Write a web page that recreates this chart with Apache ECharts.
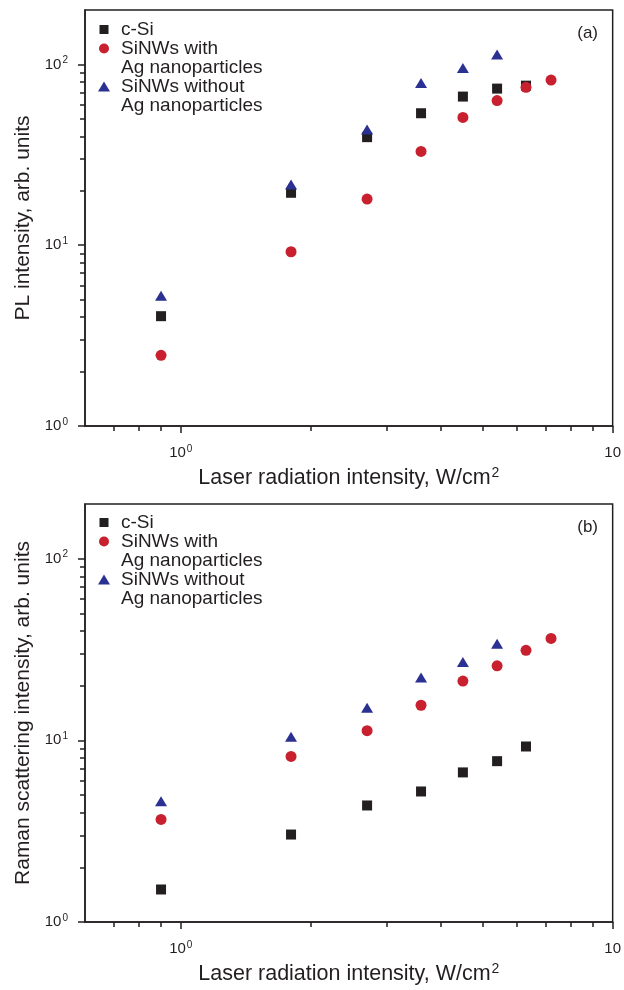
<!DOCTYPE html>
<html><head><meta charset="utf-8">
<script src="https://cdn.jsdelivr.net/npm/echarts@6/dist/echarts.min.js"></script>
<style>html,body{margin:0;padding:0;background:#fff}#c{width:624px;height:990px}</style>
</head><body><div id="c"></div>
<script>
// ---- data ----
const xValues = [0.9, 1.8, 2.7, 3.6, 4.5, 5.4, 6.3, 7.2];
const plCSi = [4.05, 19.5, 39.6, 53.7, 66.4, 73.5, 76.3];
const plWithAg = [2.46, 9.2, 18.0, 33.0, 50.9, 63.1, 74.7, 81.9];
const plWithoutAg = [5.25, 21.7, 43.7, 78.9, 95.5, 113.5];
const ramanCSi = [1.51, 3.03, 4.38, 5.23, 6.66, 7.68, 9.25];
const ramanWithAg = [3.67, 8.15, 11.3, 15.6, 21.2, 25.7, 31.3, 36.4];
const ramanWithoutAg = [4.62, 10.45, 15.1, 22.2, 27.0, 34.0];
const seriesNames = ['c-Si', 'SiNWs with\nAg nanoparticles', 'SiNWs without\nAg nanoparticles'];
const panelLabels = ['(a)', '(b)'];
const yAxisNames = ['PL intensity, arb. units', 'Raman scattering intensity, arb. units'];
const xAxisName = 'Laser radiation intensity, W/cm';
const xAxisNameSup = '2';
const xMajorTicks = [1, 10];
const xTickBase = ['10', '10'];
const xTickExp = ['0', ''];
const xMinorTicks = [0.7, 0.8, 0.9, 2, 3, 4, 5, 6, 7, 8, 9];
const yMajorTicks = [1, 10, 100];
const yTickBase = ['10', '10', '10'];
const yTickExp = ['0', '1', '2'];
const yMinorTicks = [2, 3, 4, 5, 6, 7, 8, 9, 20, 30, 40, 50, 60, 70, 80, 90];
const xMin = 0.6, xMax = 10, yMin = 1, yMax = 200;

// ---- style ----
const INK = '#231f20';
const RED = '#c8202e';
const BLUE = '#2b3192';
const FONT = '"Liberation Sans", Arial, Helvetica, sans-serif';
const grids = [
  { left: 85, right: 7, top: 10, height: 416 },
  { left: 85, right: 7, top: 504, height: 418 }
];

function pair(arr) {
  return arr.map((v, i) => [xValues[i], v]);
}
function fmtFrom(ticks, base, exp) {
  return function (v) {
    for (let i = 0; i < ticks.length; i++) {
      if (Math.abs(v - ticks[i]) < 1e-9 * ticks[i]) {
        return exp[i] ? '{b|' + base[i] + '}{s|' + exp[i] + '}' : '{b|' + base[i] + '}';
      }
    }
    return '';
  };
}
const tickRich = {
  b: { fontSize: 15, fontFamily: FONT, color: INK, lineHeight: 18 },
  s: { fontSize: 10, fontFamily: FONT, color: INK, verticalAlign: 'top', lineHeight: 12, padding: [0, 0, 0, 1] }
};

const xAxes = [], yAxes = [], series = [], legends = [], titles = [];
const panels = [
  [plCSi, plWithAg, plWithoutAg],
  [ramanCSi, ramanWithAg, ramanWithoutAg]
];
const symbols = ['rect', 'circle', 'triangle'];
const colors = [INK, RED, BLUE];
const sizes = [10, 11, [12, 10]];
const legendIcon = [[9, 9, 7.5], [10, 10, 7], [12, 10, 6]]; // w, h, text pad
const legendLineOffset = [0, 19, 57];

panels.forEach((pdata, p) => {
  xAxes.push({
    type: 'log', logBase: 10, gridIndex: p, min: xMin, max: xMax, position: 'bottom',
    name: '{n|' + xAxisName + '}{s|' + xAxisNameSup + '}',
    nameLocation: 'middle', nameGap: 40,
    nameTextStyle: {
      rich: {
        n: { fontSize: 21.5, fontFamily: FONT, color: INK, lineHeight: 24 },
        s: { fontSize: 14, fontFamily: FONT, color: INK, verticalAlign: 'top', lineHeight: 15, padding: [0, 0, 0, 1] }
      }
    },
    axisLine: { show: true, onZero: false, lineStyle: { color: INK, width: 1.5 } },
    axisTick: { show: true, inside: false, length: 7, customValues: xMajorTicks, lineStyle: { color: INK, width: 1.5 } },
    axisLabel: { show: true, margin: 18, customValues: xMajorTicks, formatter: fmtFrom(xMajorTicks, xTickBase, xTickExp), rich: tickRich },
    splitLine: { show: false }, minorTick: { show: false }
  });
  xAxes.push({
    type: 'log', logBase: 10, gridIndex: p, min: xMin, max: xMax, position: 'bottom',
    axisLine: { show: false, onZero: false },
    axisTick: { show: true, inside: false, length: 5, customValues: xMinorTicks, lineStyle: { color: INK, width: 1.5 } },
    axisLabel: { show: false }, splitLine: { show: false }
  });
  yAxes.push({
    type: 'log', logBase: 10, gridIndex: p, min: yMin, max: yMax, position: 'left',
    name: yAxisNames[p], nameLocation: 'middle', nameGap: 44, nameRotate: 90,
    nameTextStyle: { fontSize: 21, fontFamily: FONT, color: INK },
    axisLine: { show: true, onZero: false, lineStyle: { color: INK, width: 1.5 } },
    axisTick: { show: true, inside: false, length: 7, customValues: yMajorTicks, lineStyle: { color: INK, width: 1.5 } },
    axisLabel: { show: true, margin: 17, customValues: yMajorTicks, formatter: fmtFrom(yMajorTicks, yTickBase, yTickExp), rich: tickRich },
    splitLine: { show: false }
  });
  yAxes.push({
    type: 'log', logBase: 10, gridIndex: p, min: yMin, max: yMax, position: 'left',
    axisLine: { show: false, onZero: false },
    axisTick: { show: true, inside: false, length: 5, customValues: yMinorTicks, lineStyle: { color: INK, width: 1.5 } },
    axisLabel: { show: false }, splitLine: { show: false }
  });
  pdata.forEach((arr, k) => {
    series.push({
      type: 'scatter',
      name: seriesNames[k],
      xAxisIndex: p * 2, yAxisIndex: p * 2,
      data: pair(arr),
      symbol: symbols[k], symbolSize: sizes[k],
      itemStyle: { color: colors[k], opacity: 1 },
      z: 3 + k
    });
    const [w, h, pad] = legendIcon[k];
    const firstLine = grids[p].top + 19.5 - p + legendLineOffset[k];
    const multi = k > 0;
    legends.push({
      orient: 'vertical', left: 104 - w / 2, top: firstLine - (multi ? 28.5 : 9.5), padding: 0,
      itemWidth: w, itemHeight: h, selectedMode: false, symbolKeepAspect: true,
      // an empty leading line keeps the marker level with the first text line
      formatter: multi ? (name => '\n' + name) : (name => name),
      textStyle: { fontSize: 19, lineHeight: 19, fontFamily: FONT, color: INK, padding: [0, 0, 0, pad] },
      data: [{ name: seriesNames[k], icon: symbols[k] }]
    });
  });
  titles.push({
    text: panelLabels[p], right: 21, top: grids[p].top + 10,
    textStyle: { fontSize: 17, fontWeight: 'normal', fontFamily: FONT, color: INK }
  });
});

const chart = echarts.init(document.getElementById('c'), null, { renderer: 'canvas' });
chart.setOption({
  backgroundColor: '#fff',
  animation: false,
  title: titles,
  legend: legends,
  grid: grids.map(g => Object.assign({ show: true, borderColor: INK, borderWidth: 1.5, backgroundColor: 'transparent', containLabel: false }, g)),
  xAxis: xAxes,
  yAxis: yAxes,
  series: series
});
</script>
</body></html>
